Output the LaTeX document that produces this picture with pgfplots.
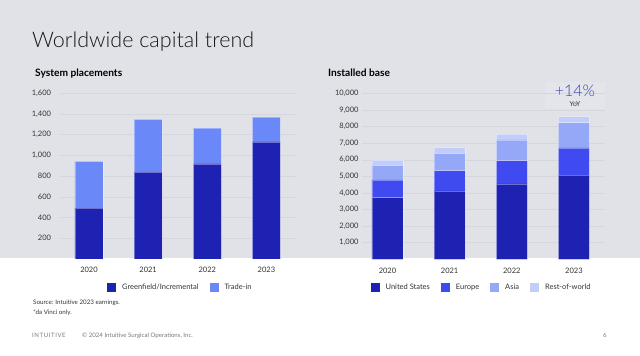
\documentclass[border=0pt]{standalone}
\usepackage{pgfplots}
\pgfplotsset{compat=1.18}
\usepackage{fontspec}
\setmainfont{Lato}
\newfontfamily\titlefont{Lato Light}
\definecolor{bgc}{HTML}{E1E2E8}
\definecolor{boxc}{HTML}{E4E5EA}
\definecolor{gridc}{HTML}{D6D7DD}
\definecolor{cUS}{HTML}{1E22B3}
\definecolor{cEU}{HTML}{3F4BF1}
\definecolor{cAS}{HTML}{95A8F7}
\definecolor{cRW}{HTML}{C3CDF9}
\definecolor{cTR}{HTML}{6A88F8}
\definecolor{annc}{HTML}{3A3FC0}
\definecolor{txt}{HTML}{333333}
\definecolor{foot}{HTML}{7A7A7A}
\pgfplotsset{
  slide/.style={
    scale only axis, height=171pt,
    axis line style={draw=none}, tick style={draw=none},
    ymin=0, ymajorgrids, grid style={gridc, line width=0.5pt},
    scaled y ticks=false,
    xtick=data, xticklabels={2020,2021,2022,2023},
    ticklabel style={font=\fontsize{7.5}{9}\selectfont, text=txt},
    xticklabel style={yshift=-5pt},
    /pgf/number format/assume math mode=true,
    /pgf/number format/.cd, 1000 sep={,}, /pgfplots/.cd,
    ybar stacked,
    every axis plot/.append style={draw=white, draw opacity=0.35, line width=0.5pt},
    legend image code/.code={\fill[##1, draw=none] (0pt,-4.5pt) rectangle (9pt,4.5pt);},
    legend style={draw=none, fill=none, legend columns=-1,
      font=\fontsize{7.5}{9}\selectfont, text=txt,
      /tikz/every odd column/.append style={column sep=4pt},
      /tikz/every even column/.append style={column sep=9pt}},
  }
}
\begin{document}
\begin{tikzpicture}
\fill[white] (0pt,0pt) rectangle (640pt,356pt);
\fill[bgc] (0pt,97.5pt) rectangle (640pt,356pt);
\node[anchor=base west, inner sep=0pt, font=\titlefont\fontsize{21.5}{26}\selectfont, text=black!90] at (32pt,308pt) {Worldwide capital trend};
\node[anchor=base west, inner sep=0pt, font=\bfseries\fontsize{10.2}{12}\selectfont] at (35pt,279.5pt) {System placements};
\node[anchor=base west, inner sep=0pt, font=\bfseries\fontsize{10.2}{12}\selectfont] at (328pt,279.5pt) {Installed base};

\begin{axis}[slide, at={(60pt,97pt)}, anchor=south west,
  width=236pt, xmin=-0.49, xmax=3.5, ymax=1650,
  ytick={200,400,...,1600}, yticklabel style={xshift=-5.5pt},
  bar width=28pt,
  legend style={at={(0.51,-0.165)}, anchor=center}]
\addplot[fill=cUS] coordinates {(0,490) (1,838) (2,917) (3,1129)};
\addplot[fill=cTR] coordinates {(0,453) (1,509) (2,347) (3,241)};
\addlegendentry{Greenfield/Incremental}
\addlegendentry{Trade-in}
\end{axis}

\fill[boxc] (545pt,247pt) rectangle (605pt,274pt);
\begin{axis}[slide, at={(362pt,96.7pt)}, anchor=south west,
  width=243pt, xmin=-0.41, xmax=3.5, ymax=10307,
  ytick={1000,2000,...,10000},
  bar width=31pt,
  legend style={at={(0.492,-0.165)}, anchor=center}]
\addplot[fill=cUS] coordinates {(0,3737) (1,4117) (2,4540) (3,5081)};
\addplot[fill=cEU] coordinates {(0,1043) (1,1224) (2,1403) (3,1628)};
\addplot[fill=cAS] coordinates {(0,886) (1,1048) (2,1248) (3,1525)};
\addplot[fill=cRW] coordinates {(0,323) (1,341) (2,353) (3,372)};
\addlegendentry{United States}
\addlegendentry{Europe}
\addlegendentry{Asia}
\addlegendentry{Rest-of-world}
\end{axis}
\node[font=\titlefont\fontsize{16}{18}\selectfont, text=annc] at (575pt,265pt) {+14\%};
\node[font=\fontsize{6.8}{8}\selectfont, text=txt] at (575pt,252pt) {YoY};

\node[anchor=base west, inner sep=0pt, font=\fontsize{6.2}{7}\selectfont, text=txt] at (33pt,51pt) {Source: Intuitive 2023 earnings.};
\node[anchor=base west, inner sep=0pt, font=\fontsize{6.2}{7}\selectfont, text=txt] at (33pt,41pt) {*da Vinci only.};
\node[anchor=base west, inner sep=0pt, font=\addfontfeatures{LetterSpace=10}\fontsize{6}{7}\selectfont, text=foot] at (32pt,18.5pt) {INTUITIVE};
\node[anchor=base west, inner sep=0pt, font=\fontsize{6.1}{7}\selectfont, text=foot] at (82pt,18.5pt) {\textcopyright{} 2024 Intuitive Surgical Operations, Inc.};
\node[anchor=base west, inner sep=0pt, font=\fontsize{6}{7}\selectfont, text=foot] at (603pt,18.5pt) {6};
\pgfresetboundingbox
\path (0pt,0pt) rectangle (640pt,356pt);
\end{tikzpicture}
\end{document}
